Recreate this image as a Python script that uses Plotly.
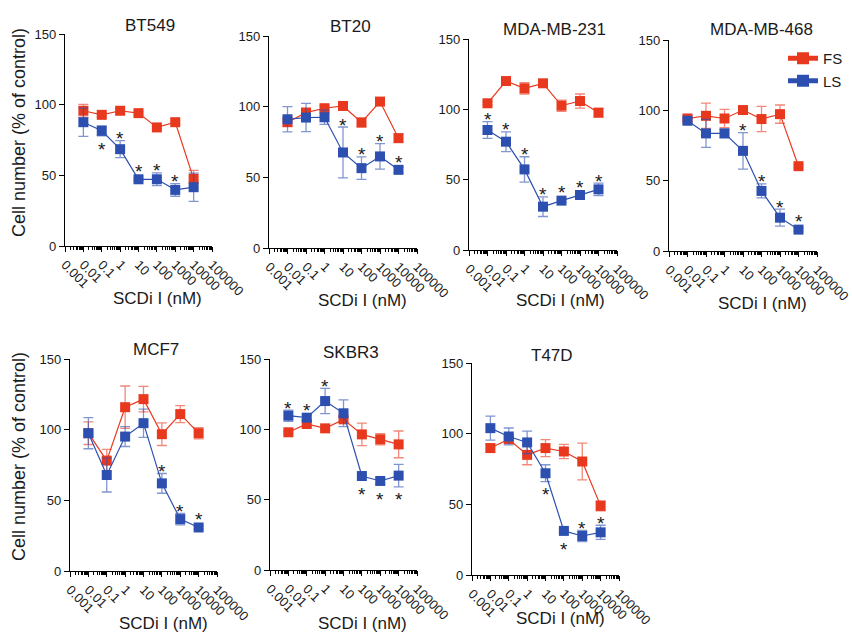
import math
import plotly.graph_objects as go

# ---------------- data ----------------
doses = [0.01, 0.1, 1, 10, 100, 1000, 10000]
x_tick_vals = [0.001, 0.01, 0.1, 1, 10, 100, 1000, 10000, 100000]
x_tick_text = ["0.001", "0.01", "0.1", "1", "10", "100", "1000", "10000", "100000"]
y_tick_vals = [0, 50, 100, 150]

cell_lines = ["BT549", "BT20", "MDA-MB-231", "MDA-MB-468", "MCF7", "SKBR3", "T47D"]

bt549_fs = [95.7, 92.8, 95.7, 94.0, 83.9, 87.6, 47.5]
bt549_fs_err = [4.5, 1.5, 1.5, 1, 1, 1, 6]
bt549_ls = [87.6, 81.5, 68.5, 47.2, 47.2, 39.7, 41.6]
bt549_ls_err = [10, 3.5, 6, 1, 4.5, 4.5, 10]
bt549_stars = [0, -1, 1, 1, 1, 1, 0]

bt20_fs = [89.0, 95.8, 98.9, 100.5, 88.8, 103.6, 77.7]
bt20_fs_err = [3, 3, 2, 2, 3, 1, 3]
bt20_ls = [91.1, 92.3, 92.5, 67.6, 56.5, 64.8, 55.3]
bt20_ls_err = [9, 10, 5, 18, 8, 9, 2]
bt20_stars = [0, 0, 0, 1, 1, 1, 1]

mda231_fs = [104.3, 120.1, 114.9, 118.5, 102.6, 105.9, 97.6]
mda231_fs_err = [1, 2, 4, 1, 4, 5, 3]
mda231_ls = [85.3, 77.0, 57.3, 30.8, 35.1, 39.1, 43.1]
mda231_ls_err = [6, 7, 9, 7, 1, 2, 4.5]
mda231_stars = [1, 1, 1, 1, 1, 1, 1]

mda468_fs = [94.2, 96.1, 94.2, 100.2, 93.8, 97.3, 60.3]
mda468_fs_err = [2, 9, 6.5, 1, 9, 6.5, 1]
mda468_ls = [92.6, 83.6, 83.6, 71.2, 42.7, 23.7, 15.2]
mda468_ls_err = [2, 10, 3, 13, 5, 6, 1]
mda468_stars = [0, 0, 0, 1, 1, 1, 1]

mcf7_fs = [97.5, 78.1, 115.9, 121.6, 96.8, 111.0, 97.5]
mcf7_fs_err = [8, 8, 15, 9, 8, 6, 4]
mcf7_ls = [97.5, 67.9, 95.1, 104.6, 62.0, 36.7, 30.8]
mcf7_ls_err = [11, 12, 7, 10, 7, 4, 1]
mcf7_stars = [0, 0, 0, 0, 1, 1, 1]

skbr3_fs = [97.9, 103.8, 100.7, 107.1, 96.4, 92.9, 89.3]
skbr3_fs_err = [1, 2, 1, 2, 8, 4, 9.5]
skbr3_ls = [109.7, 108.3, 120.1, 111.4, 66.8, 63.3, 67.1]
skbr3_ls_err = [4, 2, 9, 9.5, 1, 2, 8]
skbr3_stars = [1, 1, 1, 0, -1, -1, -1]

t47d_fs = [89.8, 96.1, 85.0, 89.8, 87.4, 80.3, 48.9]
t47d_fs_err = [3, 3, 7, 6, 5, 13, 3.5]
t47d_ls = [103.9, 98.0, 93.8, 72.0, 31.2, 27.6, 30.2]
t47d_ls_err = [8.5, 6, 8, 6, 1, 4, 5]
t47d_stars = [0, 0, 0, -1, -1, 1, 1]

series = [
    (bt549_fs, bt549_fs_err, bt549_ls, bt549_ls_err, bt549_stars),
    (bt20_fs, bt20_fs_err, bt20_ls, bt20_ls_err, bt20_stars),
    (mda231_fs, mda231_fs_err, mda231_ls, mda231_ls_err, mda231_stars),
    (mda468_fs, mda468_fs_err, mda468_ls, mda468_ls_err, mda468_stars),
    (mcf7_fs, mcf7_fs_err, mcf7_ls, mcf7_ls_err, mcf7_stars),
    (skbr3_fs, skbr3_fs_err, skbr3_ls, skbr3_ls_err, skbr3_stars),
    (t47d_fs, t47d_fs_err, t47d_ls, t47d_ls_err, t47d_stars),
]

# ---------------- layout (pixel boxes of each panel) ----------------
W, H = 852, 637
# x_left, x_right, y_top(150), y_bottom(0), title centre (x, y), x-title centre (x, y)
panels = [
    (65, 212, 34, 246, (150, 25), (157, 298)),
    (269, 417, 36, 248, (350, 27), (362, 300)),
    (469, 617, 39, 250, (554, 30), (560, 300)),
    (669, 817, 40, 251, (761, 30), (762, 303)),
    (70, 217, 359, 571, (156, 349), (163, 623)),
    (270, 417, 359, 570, (351, 352), (362, 623)),
    (472, 619, 363, 575, (552, 355), (560, 618)),
]

RED = "#E8391F"
BLUE = "#2D50B0"
RED_ERR = "rgba(232,57,31,0.6)"
BLUE_ERR = "rgba(45,80,176,0.6)"
TXT = "#1a1a1a"
FONT = "Liberation Sans, Arial, Helvetica, sans-serif"
STAR_CLEAR = 4  # minimum clearance (data units) so stars clear the square marker


def px(x):
    return x / W


def py(y):
    return 1 - y / H


minor_vals = [m * 10 ** k for k in range(-3, 5) for m in range(2, 10)]

fig = go.Figure()
annotations = []

for i, (name, (fs, fse, ls, lse, stars), box) in enumerate(zip(cell_lines, series, panels)):
    n = i + 1
    xa = "x" if n == 1 else f"x{n}"
    ya = "y" if n == 1 else f"y{n}"
    x0, x1, yt, yb, tpos, xtpos = box

    fig.add_trace(go.Scatter(
        x=doses, y=fs, xaxis=xa, yaxis=ya, mode="lines+markers", name="FS",
        legendgroup="FS", showlegend=(n == 4),
        line=dict(color=RED, width=1.2),
        marker=dict(symbol="square", size=10, color=RED),
        error_y=dict(type="data", array=fse, visible=True, color=RED_ERR, thickness=1.3, width=5),
    ))
    fig.add_trace(go.Scatter(
        x=doses, y=ls, xaxis=xa, yaxis=ya, mode="lines+markers", name="LS",
        legendgroup="LS", showlegend=(n == 4),
        line=dict(color=BLUE, width=1.2),
        marker=dict(symbol="square", size=10, color=BLUE),
        error_y=dict(type="data", array=lse, visible=True, color=BLUE_ERR, thickness=1.3, width=5),
    ))

    axis_common = dict(
        showline=True, linecolor="black", linewidth=1.3, ticks="outside",
        tickcolor="black", tickwidth=1.2, showgrid=False, zeroline=False,
        automargin=False,
        tickfont=dict(family=FONT, size=13, color=TXT),
    )
    fig.layout[f"xaxis{'' if n == 1 else n}"] = dict(
        axis_common, type="log", range=[-3, 5], domain=[px(x0), px(x1)],
        anchor=ya, tickmode="array", tickvals=x_tick_vals, ticktext=x_tick_text,
        tickangle=45, ticklen=5,
        minor=dict(tickmode="array", tickvals=minor_vals, ticks="outside",
                   ticklen=3, tickcolor="black", tickwidth=1),
    )
    fig.layout[f"yaxis{'' if n == 1 else n}"] = dict(
        axis_common, range=[0, 150], domain=[py(yb), py(yt)], anchor=xa,
        tickmode="array", tickvals=y_tick_vals, ticklen=5,
    )

    # panel title
    annotations.append(dict(
        text=name, xref="paper", yref="paper", x=px(tpos[0]), y=py(tpos[1]),
        xanchor="center", yanchor="middle", showarrow=False,
        font=dict(family=FONT, size=17, color=TXT),
    ))
    # x-axis title
    annotations.append(dict(
        text="SCDi I (nM)", xref="paper", yref="paper", x=px(xtpos[0]), y=py(xtpos[1]),
        xanchor="center", yanchor="middle", showarrow=False,
        font=dict(family=FONT, size=17, color=TXT),
    ))
    # significance stars
    for d, v, e, s in zip(doses, ls, lse, stars):
        if s == 0:
            continue
        annotations.append(dict(
            text="*", xref=xa, yref=ya, x=math.log10(d), y=v + s * max(e, STAR_CLEAR),
            xanchor="center", yanchor="middle", showarrow=False,
            yshift=(2 if s > 0 else -13),
            font=dict(family=FONT, size=19, color=TXT),
        ))

# y-axis titles (one per row)
for yc in (133, 457):
    annotations.append(dict(
        text="Cell number (% of control)", xref="paper", yref="paper",
        x=px(19), y=py(yc), xanchor="center", yanchor="middle", textangle=-90,
        showarrow=False, font=dict(family=FONT, size=18, color=TXT),
    ))

fig.update_layout(
    width=W, height=H, margin=dict(l=0, r=0, t=0, b=0, autoexpand=False),
    paper_bgcolor="white", plot_bgcolor="white",
    annotations=annotations,
    font=dict(family=FONT, color=TXT),
    legend=dict(
        x=px(783), y=py(42), xanchor="left", yanchor="top",
        bgcolor="rgba(0,0,0,0)", font=dict(family=FONT, size=15, color=TXT),
        itemwidth=30, tracegroupgap=0, itemsizing="constant",
    ),
)

fig.write_html(
    "out.html",
    config={"displayModeBar": False},
    post_script="document.body.style.margin='0';document.body.style.overflow='hidden';",
)
